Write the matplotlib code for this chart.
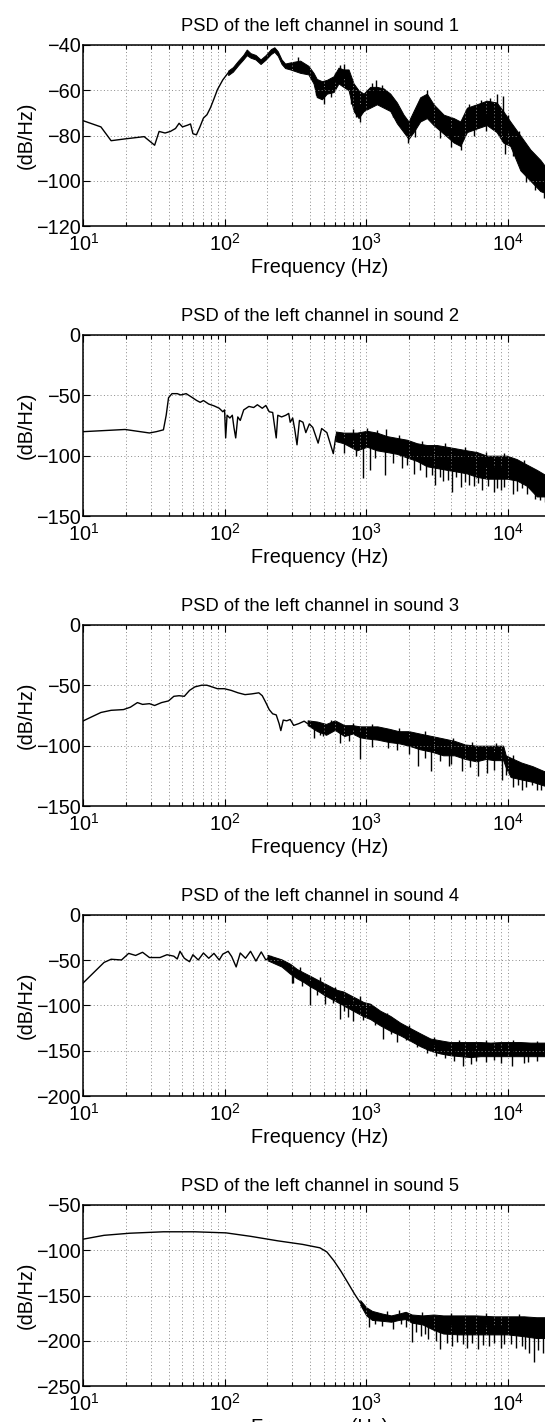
import numpy as np
import matplotlib.pyplot as plt

plt.rcParams['font.family'] = ['Liberation Sans', 'DejaVu Sans']
plt.rcParams['font.size'] = 14.3

# ---- data (Hz, dB/Hz) ----
# each sound: clean trace, envelope of the dense noisy part, and single spikes

# sound 1
line1_f = [10, 13.3, 15.7, 19.7, 26.9, 31.9, 34.3, 37.8, 41.2, 44.8, 47.5, 50.2, 54.7, 57.2,
           59.5, 63, 66.7, 70.6, 74.8, 79.2, 83.8, 88.7, 96.8, 105.6]
line1_db = [-73.5, -76.2, -82.3, -81.5, -80.5, -84.3, -78.2, -78.9, -78.2, -76.9,
            -74.6, -76.2, -75.4, -74.9, -79.2, -79.7, -76.2, -72.3, -70.8, -67.7,
            -63.8, -59.7, -55.4, -52.3]
band1_f = [105.6, 114, 124, 135, 143, 152, 165, 179, 195, 212, 224, 237, 252, 267, 290, 341,
           390, 424, 447, 486, 527, 588, 637, 690, 750, 814, 883, 958, 1067, 1190, 1327, 1479,
           1648, 1837, 1993, 2161, 2409, 2686, 2994, 3528, 4154, 4625, 5155, 6055, 7114, 8357,
           9300, 10440, 12300, 14480, 17040, 18500, 22050]
band1_hi = [-51.3, -49.8, -47.0, -44.4, -42.0, -43.6, -44.4, -46.4, -44.4, -41.8, -41.0, -42.8,
            -46.4, -48.2, -47.7, -46.9, -49.2, -52.3, -55.0, -56.0, -55.4, -53.8, -50.0, -50.8,
            -50.8, -57.0, -60.0, -61.5, -58.5, -58.5, -59.2, -61.5, -65.4, -70.8, -73.8, -69.2,
            -63.1, -61.5, -66.2, -70.8, -72.3, -73.8, -67.7, -66.2, -64.6, -65.4, -69.2, -73.8,
            -80.0, -86.2, -90.8, -93.8, -96.0]
band1_lo = [-53.3, -51.8, -49.0, -46.4, -44.5, -45.6, -46.4, -48.4, -46.4, -44.0, -43.0, -44.8,
            -48.4, -50.2, -50.8, -52.3, -53.0, -57.0, -63.0, -64.0, -61.5, -60.8, -57.0, -58.5,
            -60.0, -69.2, -72.3, -69.2, -67.7, -66.2, -67.7, -69.2, -74.6, -78.5, -81.5, -78.5,
            -73.8, -72.3, -75.4, -79.2, -83.1, -84.6, -78.5, -76.9, -75.4, -78.5, -83.1, -84.6,
            -95.4, -100.0, -104.6, -105.4, -108.0]
spike1_f = [442, 500, 700, 840, 1170, 1990, 4700, 8400, 9200, 9600, 13500, 18000,
            330, 600, 650, 1100, 1300, 2700, 5300, 6500, 7500, 10000, 12000,
            560, 780, 900, 1550, 2200, 3300, 4000, 5800, 7000, 11000, 15500, 20000]
spike1_db = [-62, -66, -48.5, -72, -55.5, -83.5, -86.5, -61.5, -62.5, -88, -100.5, -107.5,
             -45.5, -52.5, -49, -57, -57.5, -60, -66, -64.5, -63.5, -71, -78,
             -63, -66, -74, -72, -80.5, -81, -85, -80, -78, -89, -104, -109]

# sound 2
line2_f = [10, 19.7, 29.3, 32.8, 36.8, 38.5, 40, 42.3, 46.1, 48.8, 53.3, 58.1, 63.3, 67, 70.6,
           76.9, 83.8, 91.3, 96.8, 99.6, 101.4, 103.7, 108.6, 113, 116, 119.4, 123.5, 128.6,
           136, 148, 160, 170, 184, 195, 206, 218, 231, 237, 252, 270, 283, 290, 302, 312, 324,
           337, 357, 374, 396, 419, 457, 484, 527, 585, 610]
line2_db = [-80.1, -78.3, -81.2, -80.1, -78.6, -66.5, -52.0, -48.6, -48.6, -49.7,
            -48.6, -51.4, -54.3, -55.8, -54.3, -57.2, -58.7, -60.7, -63.6, -62.1,
            -85.3, -66.5, -68.8, -66.5, -76.6, -85.3, -67.9, -70.8, -62.1, -59.2,
            -60.1, -57.8, -60.7, -58.4, -63.6, -64.2, -85.3, -66.5, -67.9, -66.5,
            -65.0, -72.3, -68.8, -78.0, -91.0, -70.8, -72.3, -80.9, -73.7, -76.6,
            -89.6, -77.5, -80.9, -98.3, -83.8]
band2_f = [610, 691, 770, 859, 1011, 1190, 1401, 1648, 1940, 2283, 2686, 3160, 3719, 4376,
           5150, 6060, 7131, 8390, 9870, 11620, 13670, 16090, 18500, 22050]
band2_hi = [-80.0, -80.9, -80.9, -80.9, -79.4, -80.9, -83.8, -85.3, -86.8, -89.7, -91.2, -91.2,
            -92.6, -94.1, -95.6, -97.0, -100.0, -100.0, -100.0, -102.9, -107.4, -111.8, -116.0,
            -118.0]
band2_lo = [-88.0, -89.7, -92.6, -95.6, -92.6, -95.6, -97.0, -98.5, -101.5, -104.4, -108.8,
            -110.3, -111.8, -113.2, -114.7, -117.6, -119.1, -119.1, -119.1, -120.6, -125.0,
            -133.8, -133.8, -135.0]
spike2_f = [700, 953, 1010, 1060, 1362, 1390, 1800, 2168, 2643, 3042, 3505, 4039, 4654, 5362,
            6535, 7964, 8925, 10880, 12540, 15720,
            800, 1200, 1700, 2500, 3600, 5000, 7000, 9500, 13000,
            850, 1150, 1550, 1950, 2400, 2900, 3300, 3800, 4300, 5000, 5800, 6200, 7300, 8400,
            9500, 11600, 13800, 17000, 18500]
spike2_db = [-98, -118.5, -77, -112, -116, -78, -110, -115, -118, -124, -121, -130, -126,
             -124, -128.6, -130, -128.6, -131.5, -127, -136,
             -78, -79, -83, -88, -89.5, -92.5, -97, -98, -104,
             -100, -102, -106, -108, -112, -116, -118, -120, -118, -122, -125, -123, -125, -127,
             -126, -129, -132, -137, -138]

# sound 3
line3_f = [10, 11.5, 13.3, 15.7, 19.2, 21.5, 24.1, 26.2, 29.3, 31.9, 35.7, 40, 43.6, 47.5,
           51.7, 56.3, 61.4, 68.6, 74.6, 81.3, 88.7, 99.2, 111, 124, 139, 155, 174, 184, 195,
           206, 218, 231, 242, 249, 259, 274, 290, 307, 334, 364, 385]
line3_db = [-79.4, -76.0, -72.5, -70.7, -70.1, -68.1, -64.3, -65.8, -65.2, -66.7,
            -64.3, -62.9, -59.1, -58.6, -59.1, -54.2, -51.3, -49.9, -49.9, -51.3,
            -52.8, -52.8, -54.2, -56.2, -57.7, -57.1, -56.2, -58.6, -64.3, -70.1,
            -73.6, -74.5, -81.7, -87.5, -78.8, -79.4, -78.3, -83.2, -81.7, -79.7,
            -81.7]
band3_f = [385, 450, 520, 600, 700, 800, 900, 1000, 1200, 1450, 1700, 2000, 2400, 2900, 3500,
           4200, 5000, 6000, 7000, 8000, 9300, 9700, 10500, 12500, 15000, 18000, 22050]
band3_hi = [-79, -80, -82, -79, -83, -83, -84, -84, -84, -86, -88, -88, -90, -92, -94, -96,
            -99, -100, -100, -100, -100, -108, -110, -114, -117, -121, -123]
band3_lo = [-83, -88, -91, -87, -92, -90, -93, -94, -95, -97, -98, -100, -103, -105, -108,
            -108, -111, -113, -111, -112, -112, -118, -126, -128, -130, -133, -135]
spike3_f = [426, 498, 654, 905, 1430, 2330, 2877, 3820, 4790, 6180, 7120, 9180, 10890, 12540,
            14860, 17110,
            560, 800, 1100, 1700, 2600, 4100, 5600, 8300, 11000,
            470, 760, 1100, 1650, 2000, 2600, 3300, 4000, 5400, 8000, 9700, 11800, 13500,
            16000, 19000]
spike3_db = [-93.3, -92, -97.7, -110.7, -102, -116.5, -120.9, -116.5, -120.9, -125.2, -122.3,
             -128.1, -133.9, -136.8, -132.5, -136.8,
             -79, -81, -82, -85.5, -88, -93.5, -97, -98, -108,
             -91, -96, -101, -104, -107, -110, -113, -115, -118, -120, -124, -133, -134,
             -137, -139]

# sound 4
line4_f = [10, 11.9, 14, 15.7, 18.6, 20.9, 23.4, 26.2, 29.3, 34.8, 39, 43.6, 46.1, 48.2, 51.7,
           56.3, 59.5, 64.9, 70.6, 77, 83.8, 91.3, 96.8, 105.6, 111.8, 120.3, 128.6, 140, 152,
           166, 181, 195, 212]
line4_db = [-74.8, -63.2, -52.4, -48.9, -49.7, -42.4, -44.7, -41.2, -47.0, -47.0,
            -43.9, -45.5, -48.6, -40.1, -47.8, -51.6, -43.9, -49.7, -42.0, -47.8,
            -42.4, -49.7, -43.2, -40.1, -45.9, -57.4, -42.0, -47.8, -40.1, -50.9,
            -40.8, -49.7, -45.9]
band4_f = [200, 252, 290, 323, 360, 402, 448, 500, 556, 620, 691, 770, 859, 957, 1067, 1256,
           1479, 1741, 2050, 2410, 2840, 3340, 3930, 4630, 5450, 6410, 7550, 8890, 10460,
           12310, 14490, 18500, 22050]
band4_hi = [-44.0, -49.0, -54.0, -59.6, -63.5, -67.3, -71.2, -75.0, -78.8, -82.7, -84.6, -88.5,
            -92.3, -96.2, -98.0, -105.8, -111.5, -119.0, -125.0, -130.8, -136.5, -138.5, -140.4,
            -140.4, -140.4, -140.4, -141.0, -140.4, -140.4, -140.4, -141.0, -141.0, -141.0]
band4_lo = [-50, -57, -65, -70, -74, -79, -83, -88, -92, -96, -100, -104, -108, -112, -115,
            -122, -128, -133, -139, -145, -150, -153, -155, -156, -157, -156, -156, -156, -156,
            -156, -156, -156, -156]
spike4_f = [298, 306, 402, 513, 654, 740, 800, 1320, 1640, 2690, 4870, 5550, 10750, 12960,
            340, 470, 600, 900, 1400, 2000, 3000, 4500, 7000, 11000, 16000,
            350, 450, 580, 700, 950, 1150, 1500, 1900, 2300, 3100, 3600, 4200, 6000, 7000,
            8000, 9000, 14000, 16000, 20000]
spike4_db = [-75, -74.8, -100, -97.9, -115, -113, -117, -136.5, -140, -152, -167.3, -165,
             -167, -163,
             -57, -69, -80, -89.5, -108, -122, -134.5, -138, -138.5, -138.5, -139,
             -78, -88, -97, -106, -116, -121, -131, -138, -146, -156, -158, -161, -161, -162,
             -160, -163, -162, -161, -162]

# sound 5
line5_f = [10, 14, 21.2, 36.8, 61.3, 102, 152, 237, 354, 470, 527, 590, 662, 733, 825, 905]
line5_db = [-87.7, -83.5, -81.2, -79.6, -79.6, -80.8, -84.6, -89.6, -93.5, -97.3,
            -101.9, -111.5, -123.1, -134.6, -148.1, -157.7]
band5_f = [905, 1000, 1100, 1300, 1500, 1700, 1900, 2100, 2500, 3000, 3500, 4500, 6000, 8000,
           10000, 13000, 16000, 22050]
band5_hi = [-155, -163, -167, -170, -172, -170, -168, -171, -172, -171, -172, -172, -172, -173,
            -173, -173, -174, -174]
band5_lo = [-160, -172, -177, -178, -179, -177, -176, -180, -182, -188, -192, -193, -193, -193,
            -193, -195, -197, -197]
spike5_f = [1045, 1550, 2120, 2420, 2740, 3300, 4040, 5200, 6180, 7330, 8925, 10600, 12540,
            14100, 15400, 17800,
            1150, 1300, 1750, 1900, 2250, 2600, 3100, 3700, 4400, 4800, 5600, 6700, 8000,
            9500, 11500, 13200, 16500, 19500,
            1400, 1700, 2500, 4000, 7000, 12000]
spike5_db = [-184.6, -186.5, -201.9, -194.2, -198.1, -209.6, -205.8, -207.7, -209.6, -205.8,
             -207.7, -203.8, -205.8, -213.5, -223.1, -213.5,
             -182, -184, -182, -185, -190, -192, -200, -203, -201, -204, -202, -205, -203,
             -204, -208, -209, -210, -212,
             -167, -166, -168, -169, -169.5, -170]

sounds = [
    (line1_f, line1_db, band1_f, band1_hi, band1_lo, spike1_f, spike1_db),
    (line2_f, line2_db, band2_f, band2_hi, band2_lo, spike2_f, spike2_db),
    (line3_f, line3_db, band3_f, band3_hi, band3_lo, spike3_f, spike3_db),
    (line4_f, line4_db, band4_f, band4_hi, band4_lo, spike4_f, spike4_db),
    (line5_f, line5_db, band5_f, band5_hi, band5_lo, spike5_f, spike5_db),
]
ylims = [(-120, -40), (-150, 0), (-150, 0), (-200, 0), (-250, -50)]
ysteps = [20, 50, 50, 50, 50]

# ---- layout (pixels) ----
W, H = 545, 1422
left, width, height = 83.4, 472.8, 181
tops = [45, 335, 625, 915, 1205]

fig = plt.figure(figsize=(W / 100, H / 100), dpi=100)

for i, (lf, ldb, bf, bhi, blo, sf, sdb) in enumerate(sounds):
    ax = fig.add_axes([left / W, 1 - (tops[i] + height) / H, width / W, height / H])

    ax.plot(lf, ldb, color='k', lw=1.0)
    ax.fill_between(bf, blo, bhi, color='k', lw=0.7)
    # spikes start from the middle of the noise band
    mid = (np.asarray(bhi) + np.asarray(blo)) / 2
    base = np.interp(np.log10(sf), np.log10(bf), mid)
    ax.vlines(sf, sdb, base, color='k', lw=1.0)

    ylo, yhi = ylims[i]
    ax.set_xscale('log')
    ax.set_xlim(10, 22050)
    ax.set_ylim(ylo, yhi)
    ax.set_yticks(np.arange(ylo, yhi + 1, ysteps[i]))

    ax.grid(True, which='major', linestyle=(0, (1, 2.5)), color='#8a8a8a', lw=0.7)
    ax.grid(True, which='minor', axis='x', linestyle=(0, (1, 2.5)), color='#8a8a8a', lw=0.7)
    ax.tick_params(which='both', direction='in', top=True, right=True, width=0.8)
    ax.tick_params(which='major', length=5)
    ax.tick_params(which='minor', length=3)
    ax.tick_params(axis='y', pad=2)
    ax.tick_params(axis='x', pad=5)
    for sp in ax.spines.values():
        sp.set_linewidth(1.1)

    ax.set_title('PSD of the left channel in sound %d' % (i + 1), fontsize=13.2, pad=10)
    ax.set_xlabel('Frequency (Hz)', labelpad=2.5)
    ax.set_ylabel('(dB/Hz)', va='center')
    ax.yaxis.set_label_coords(-0.121, 0.5)

fig.savefig('out.png', dpi=100)
